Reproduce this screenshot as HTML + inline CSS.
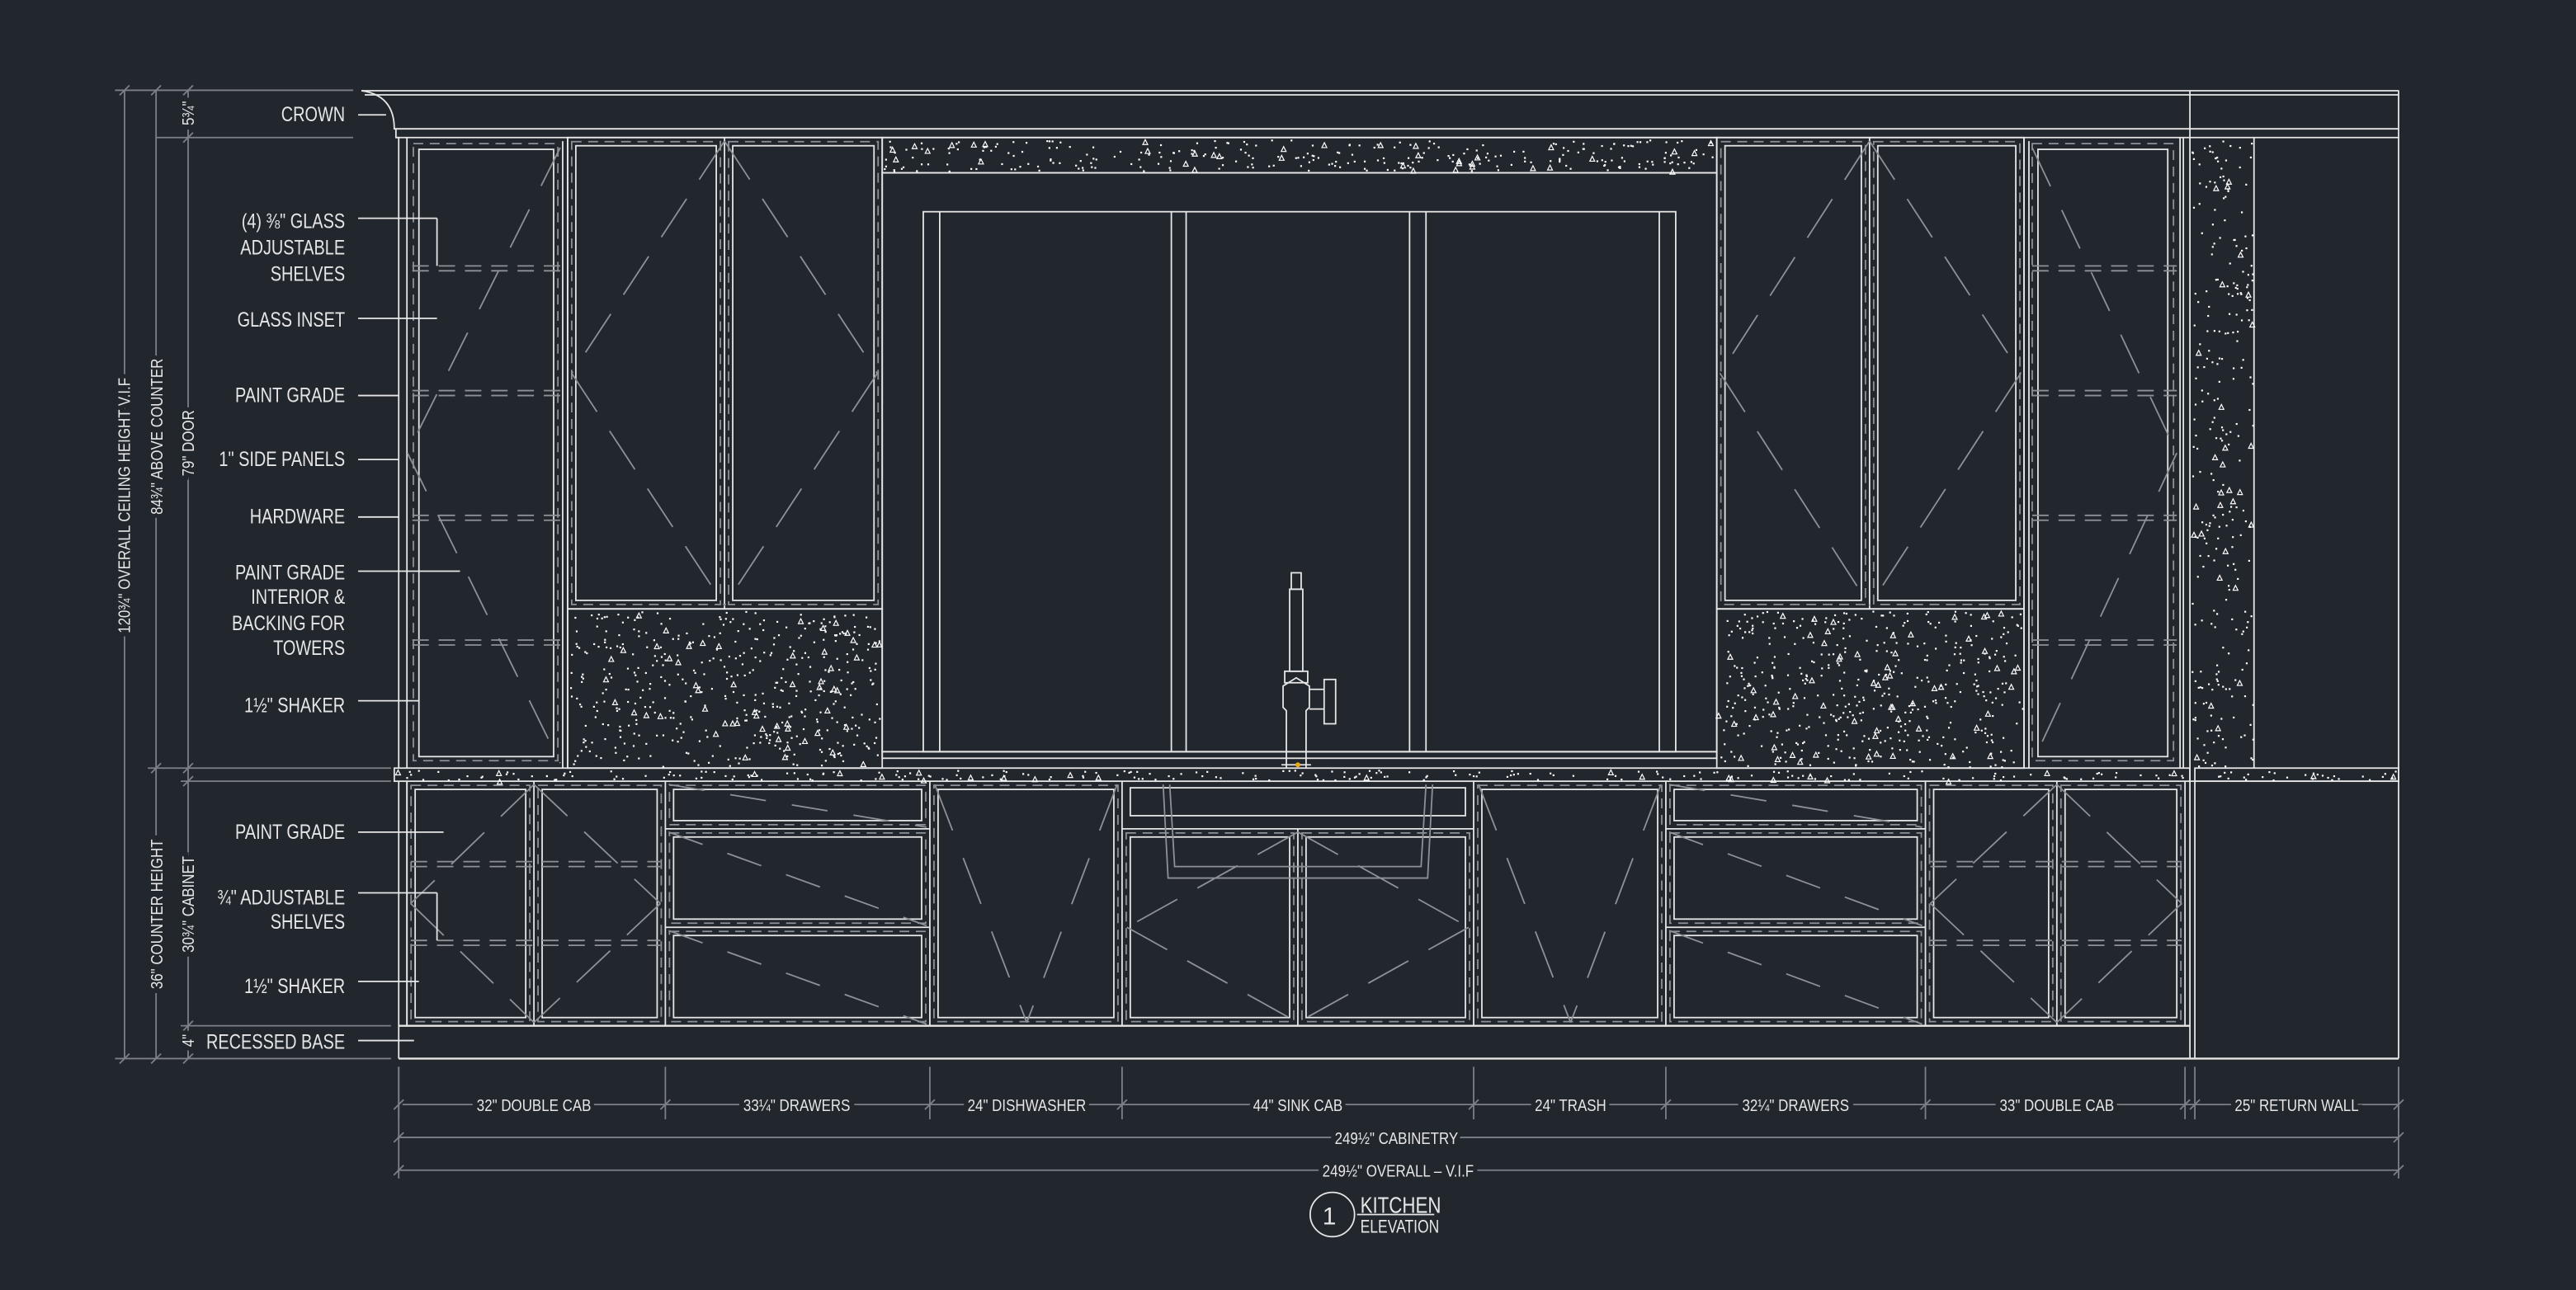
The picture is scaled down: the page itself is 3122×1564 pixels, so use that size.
<!DOCTYPE html>
<html><head><meta charset="utf-8"><style>
html,body{margin:0;padding:0;background:#22262d;}
svg{display:block}
text{font-family:"Liberation Sans Narrow","Liberation Sans",sans-serif;fill:#e6e6e6;font-size:12.5px}
.r{text-anchor:end}.m{text-anchor:middle}
.s{font-size:10px}
.k{paint-order:stroke;stroke:#22262d;stroke-width:6px}
</style></head><body>
<svg id="s" width="3122" height="1564" viewBox="0 0 1568 786" preserveAspectRatio="none" xmlns="http://www.w3.org/2000/svg">
<rect width="1568" height="786" fill="#22262d"/>
<g id="g" fill="none" stroke-width="0.9"></g>
<g id="dots" fill="#ffffff"></g>
<!-- left labels -->
<g transform="translate(210,0) scale(0.8,1) translate(-210,0)">
<text class="r" x="210" y="74">CROWN</text>
<text class="r" x="210" y="139">(4) ⅜" GLASS</text>
<text class="r" x="210" y="155">ADJUSTABLE</text>
<text class="r" x="210" y="171">SHELVES</text>
<text class="r" x="210" y="199">GLASS  INSET</text>
<text class="r" x="210" y="245">PAINT  GRADE</text>
<text class="r" x="210" y="284">1"  SIDE  PANELS</text>
<text class="r" x="210" y="319">HARDWARE</text>
<text class="r" x="210" y="353">PAINT  GRADE</text>
<text class="r" x="210" y="368">INTERIOR  &amp;</text>
<text class="r" x="210" y="384">BACKING  FOR</text>
<text class="r" x="210" y="399">TOWERS</text>
<text class="r" x="210" y="434">1½"  SHAKER</text>
<text class="r" x="210" y="511">PAINT  GRADE</text>
<text class="r" x="210" y="551">¾"  ADJUSTABLE</text>
<text class="r" x="210" y="566">SHELVES</text>
<text class="r" x="210" y="605">1½"  SHAKER</text>
<text class="r" x="210" y="639">RECESSED  BASE</text>
</g>
<!-- vertical dims -->
<text class="m s k" transform="translate(79,308) rotate(-90) scale(0.85,1)">120¾"  OVERALL  CEILING  HEIGHT  V.I.F</text>
<text class="m s k" transform="translate(99,266) rotate(-90) scale(0.85,1)">84¾"  ABOVE  COUNTER</text>
<text class="m s k" transform="translate(118,270) rotate(-90) scale(0.85,1)">79"  DOOR</text>
<text class="m s k" transform="translate(118,69) rotate(-90) scale(0.85,1)">5¾"</text>
<text class="m s k" transform="translate(99,557) rotate(-90) scale(0.85,1)">36"  COUNTER  HEIGHT</text>
<text class="m s k" transform="translate(118,551) rotate(-90) scale(0.85,1)">30¾"  CABINET</text>
<text class="m s k" transform="translate(118,634) rotate(-90) scale(0.85,1)">4"</text>
<!-- bottom dims -->
<text class="m s k" transform="translate(325,677) scale(0.85,1)">32"  DOUBLE  CAB</text>
<text class="m s k" transform="translate(485,677) scale(0.85,1)">33¼"  DRAWERS</text>
<text class="m s k" transform="translate(625,677) scale(0.85,1)">24"  DISHWASHER</text>
<text class="m s k" transform="translate(790,677) scale(0.85,1)">44"  SINK  CAB</text>
<text class="m s k" transform="translate(956,677) scale(0.85,1)">24"  TRASH</text>
<text class="m s k" transform="translate(1093,677) scale(0.85,1)">32¼"  DRAWERS</text>
<text class="m s k" transform="translate(1252,677) scale(0.85,1)">33"  DOUBLE  CAB</text>
<text class="m s k" transform="translate(1398,677) scale(0.85,1)">25"  RETURN  WALL</text>
<text class="m s k" transform="translate(850,697) scale(0.85,1)">249½"  CABINETRY</text>
<text class="m s k" transform="translate(851,717) scale(0.85,1)">249½"  OVERALL  –  V.I.F</text>
<text x="805" y="746" style="font-size:15px">1</text>
<text transform="translate(828,739) scale(0.8,1)" style="font-size:14px">KITCHEN</text>
<text transform="translate(828,751) scale(0.8,1)" style="font-size:11px">ELEVATION</text>
</svg>
<script>
var g=document.getElementById('g'),NS='http://www.w3.org/2000/svg';
var W='#e6e6e6',G='#8e9298',D='#7d8187';
function el(t,a){var e=document.createElementNS(NS,t);for(var k in a)e.setAttribute(k,a[k]);g.appendChild(e);return e;}
function L(x1,y1,x2,y2,c,d,w){var a={x1:x1,y1:y1,x2:x2,y2:y2,stroke:c||W};if(d)a['stroke-dasharray']=d;if(w)a['stroke-width']=w;return el('line',a);}
function R(x,y,w,h,c,d,sw){var a={x:x,y:y,width:w,height:h,stroke:c||W};if(d)a['stroke-dasharray']=d;if(sw)a['stroke-width']=sw;return el('rect',a);}
var DA='6 4';
function door(x,y,w,h){R(x+2.5,y+2.5,w-5,h-5,G,DA);R(x+5,y+5,w-10,h-10,W);}
function diam(cx,y1,y2,xl,xr){var my=(y1+y2)/2;[[cx,y1,xl,my],[xl,my,cx,y2],[cx,y1,xr,my],[xr,my,cx,y2]].forEach(function(p){L(p[0],p[1],p[2],p[3],G,'28 14');});}
L(220,55.3,1460,55.3);L(222,57.8,1460,57.8);L(241,78.5,1460,78.5);L(241,83.8,1460,83.8);
el('path',{d:'M220,55.3 Q240,58 240,78.5 L241,78.5 L241,83.8 L243,83.8',stroke:W});
L(1460,55,1460,645);L(1333,55,1333,645);
L(242.7,83.8,242.7,468);L(247.7,83.8,247.7,468);L(345.5,83.8,345.5,468);L(342.5,86,342.5,468,W);
R(251.6,87.5,88,376,G,DA);R(255,91,82,370);
[162,238,314,390].forEach(function(y){L(251,y,341,y,G,'10 6');L(251,y+3,341,y+3,G,'10 6');});
L(341,90,248,276,G,'26 16');L(248,276,341,465,G,'26 16');
R(345.5,83.8,191.5,287.2);L(441,83.8,441,371);door(345.5,83.8,95.5,287);door(441,83.8,96,287);diam(441,86,369,348,534);
R(537,83.8,508,21.5);R(537,105.3,508,352.7);R(537,458,508,4);
R(562,129,458,329);L(572,129,572,458);L(1010,129,1010,458);L(713,129,713,458);L(722,129,722,458);L(858,129,858,458);L(868,129,868,458);
R(345.5,371,191.5,97);R(1045,371,187,97);
R(1045,83.8,187,287.2);L(1138,83.8,1138,371);door(1045,83.8,93,287);door(1138,83.8,94,287);diam(1138,86,369,1047,1230);
L(1232,83.8,1232,468);L(1235,86,1235,468);L(1327,83.8,1327,468);L(1329,83.8,1329,468);
R(1237,87.5,86,376,G,DA);R(1240.5,91,79,370);
[162,238,314,390].forEach(function(y){L(1237,y,1325,y,G,'10 6');L(1237,y+3,1325,y+3,G,'10 6');});
L(1237,90,1325,276,G,'26 16');L(1325,276,1237,465,G,'26 16');
L(1372,83.8,1372,468);
R(240,468,1093,8);R(1336,468,124,8);L(1333,476,1460,476);
L(242.7,476,242.7,645);L(247.7,476,247.7,625);L(242.7,625,1333,625,W,0,1.2);L(242.7,645,1460,645,W,0,1.2);
L(1336,476,1336,645);
[247.7,405,566,683,897,1014,1172,1330].forEach(function(x){L(x,476,x,625);});
L(325,476,325,625);door(247.7,476,77.3,149);door(325,476,80,149);diam(325,478,623,250,402);
[525,573].forEach(function(y){L(250,y,402,y,G,'10 6');L(250,y+3,402,y+3,G,'10 6');});
function drawers(x1,x2){L(x1,505,x2,505);L(x1,565,x2,565);door(x1,476,x2-x1,29);door(x1,505,x2-x1,60);door(x1,565,x2-x1,60);
 [[476,505],[505,565],[565,625]].forEach(function(p){L(x1+2,p[0]+2,x2-2,p[1]-1,G,'22 16');});}
drawers(405,566);drawers(1014,1172);
door(566,476,117,149);L(569,478,625,623,G,'30 18');L(680,478,625,623,G,'30 18');
L(683,505,897,505);R(688,480,204,17);L(790,505,790,625);door(683,505,107,120);door(790,505,107,120);diam(790,507,623,686,894);
el('path',{d:'M712,478 L715,528 L865,528 L868,478',stroke:G});el('path',{d:'M708,478 L711,535 L869,535 L872,478',stroke:G});
door(897,476,117,149);L(900,478,956,623,G,'30 18');L(1011,478,956,623,G,'30 18');
L(1252,476,1252,625);door(1172,476,80,149);door(1252,476,78,149);diam(1252,478,623,1175,1328);
[525,573].forEach(function(y){L(1175,y,1328,y,G,'10 6');L(1175,y+3,1328,y+3,G,'10 6');});
el('path',{d:'M783,468 L783,433 L781,431 L781,418 L789,413 L797,418 L797,431 L795,433 L795,468 M780,466 L798,466',stroke:W});
R(786,349,6,10);R(785,359,8,50);R(782,409,14,7);R(806,414,7,27);L(797,420,806,420);L(797,432,806,432);
el('circle',{cx:790,cy:466,r:1.5,fill:'#e8a81a',stroke:'none'});
L(75.8,55,75.8,645,D);L(95,55,95,645,D);L(114.5,55,114.5,645,D);
[[55,70],[83.8,95],[468,90],[476,110],[625,110],[645,70]].forEach(function(p){L(p[1],p[0],p[0]==55||p[0]==83.8?215:238,p[0],D);});
[[75.8,55],[75.8,645],[95,55],[95,468],[95,645],[114.5,55],[114.5,83.8],[114.5,468],[114.5,476],[114.5,625],[114.5,645]].forEach(function(p){L(p[0]-3,p[1]+3,p[0]+3,p[1]-3,D);});
function ld(y,x,tx,ty){if(ty){L(218,y,tx,y);L(tx,y,tx,ty);}else L(218,y,x,y);}
ld(70,235);ld(133,0,266,162);ld(194,266);ld(241,243);ld(280,243);ld(315,243);ld(348,280);ld(427,255);
ld(507,270);ld(544,0,266,573);ld(598,255);ld(634,252);
L(245,673,1460,673,D);L(242,693,1460,693,D);L(242,713,1460,713,D);
[242.7,405,566,683,897,1014,1172,1330,1336,1460].forEach(function(x){L(x,650,x,682,D);L(x-3,676,x+3,670,D);});
L(242.7,650,242.7,718,D);L(1460,650,1460,718,D);
[693,713].forEach(function(y){L(239.7,y+3,245.7,y-3,D);L(1457,y+3,1463,y-3,D);});
el('circle',{cx:811,cy:740,r:13.5,stroke:W});L(826,740,873,740);
var dg=document.getElementById('dots'),sd=7;
function rnd(){sd=(sd*16807)%2147483647;return sd/2147483647;}
function sp(x,y,w,h,n){for(var i=0;i<n;i++){var px=x+rnd()*w,py=y+rnd()*h,e;
 if(rnd()<0.12){e=document.createElementNS(NS,'path');e.setAttribute('d','M'+px+','+py+'l1.5,3h-3z');e.setAttribute('fill','none');e.setAttribute('stroke','#fff');e.setAttribute('stroke-width','0.6');}
 else{e=document.createElementNS(NS,'rect');e.setAttribute('x',px);e.setAttribute('y',py);e.setAttribute('width',1.1);e.setAttribute('height',1.1);}
 dg.appendChild(e);}}
sp(538,85,506,19,300);sp(347,372,189,95,480);sp(1046,372,185,95,480);sp(1334,85,37,382,280);sp(241,469,1092,6,240);sp(1337,469,122,6,30);
</script>
</body></html>
